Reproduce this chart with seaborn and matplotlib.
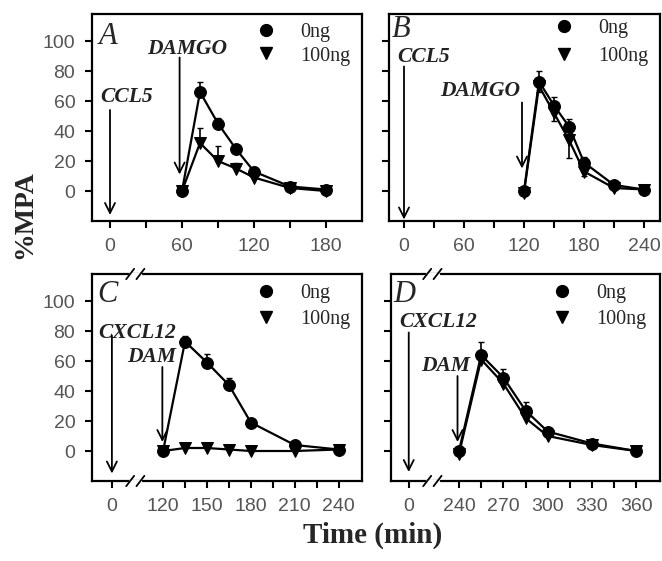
import numpy as np
import pandas as pd
import matplotlib
matplotlib.use("Agg")
import matplotlib.pyplot as plt
import matplotlib.transforms as mtransforms
from matplotlib.lines import Line2D
import seaborn as sns

sns.set_style("ticks")
plt.rcParams["font.family"] = ["Liberation Serif", "DejaVu Serif"]

# ---------------- data ----------------
doses = ["0ng", "100ng"]

A_time = [60, 75, 90, 105, 120, 150, 180]
A_0ng = [0, 66, 45, 28, 13, 3, 1]
A_0ng_err = [0, 7, 4, 3, 3, 1, 1]
A_100ng = [0, 32, 20, 15, 9, 2, 0]
A_100ng_err = [0, 10, 10, 4, 3, 1, 1]

B_time = [120, 135, 150, 165, 180, 210, 240]
B_0ng = [0, 73, 57, 43, 19, 4, 1]
B_0ng_err = [0, 7, 6, 5, 4, 1, 1]
B_100ng = [-1, 70, 52, 34, 13, 2, 1]
B_100ng_err = [0, 4, 5, 12, 3, 1, 1]

C_time = [120, 135, 150, 165, 180, 210, 240]
C_0ng = [0, 73, 59, 44, 19, 4, 1]
C_0ng_err = [0, 4, 6, 5, 2, 2, 1]
C_100ng = [0, 2, 2, 1, 0, 0, 1]
C_100ng_err = [0, 1, 1, 1, 1, 1, 1]

D_time = [240, 255, 270, 285, 300, 330, 360]
D_0ng = [0, 64, 49, 27, 13, 5, 0]
D_0ng_err = [0, 9, 6, 6, 2, 1, 1]
D_100ng = [-2, 61, 45, 22, 10, 4, 0]
D_100ng_err = [0, 3, 3, 3, 2, 1, 1]

y_ticks = [0, 20, 40, 60, 80, 100]

A_xticks = [0, 30, 60, 90, 120, 150, 180]
A_xlabels = ["0", "", "60", "", "120", "", "180"]
B_xticks = [0, 30, 60, 90, 120, 150, 180, 210, 240]
B_xlabels = ["0", "", "60", "", "120", "", "180", "", "240"]
C_xticks = [0, 120, 135, 150, 165, 180, 195, 210, 225, 240]
C_xlabels = ["0", "120", "", "150", "", "180", "", "210", "", "240"]
D_xticks = [0, 240, 255, 270, 285, 300, 315, 330, 345, 360]
D_xlabels = ["0", "240", "", "270", "", "300", "", "330", "", "360"]

# position on the broken axis where time 0 is drawn
C_zero = 85
D_zero = 206

panels = [
    dict(name="A", t=A_time, y0=A_0ng, e0=A_0ng_err, y1=A_100ng, e1=A_100ng_err,
         xt=A_xticks, xl=A_xlabels, xlim=(-15, 210), zero=None,
         pos=[92, 14, 270, 207], ylab=True,
         first="CCL5", first_txt=(14, 63), first_arrow=(0, 54, -16),
         second="DAMGO", second_txt=(64, 95), second_arrow=(58, 89, 11),
         letter=(0.025, 0.89), leg=(0.607, 0.955), ls=0.2, down1=False),
    dict(name="B", t=B_time, y0=B_0ng, e0=B_0ng_err, y1=B_100ng, e1=B_100ng_err,
         xt=B_xticks, xl=B_xlabels, xlim=(-15, 256), zero=None,
         pos=[389, 14, 271, 207], ylab=False,
         first="CCL5", first_txt=(20, 89), first_arrow=(0, 83, -19),
         second="DAMGO", second_txt=(76, 67), second_arrow=(118, 59, 15),
         letter=(0.01, 0.925), leg=(0.61, 0.975), ls=0.45, down1=True),
    dict(name="C", t=C_time, y0=C_0ng, e0=C_0ng_err, y1=C_100ng, e1=C_100ng_err,
         xt=C_xticks, xl=C_xlabels, xlim=(71.4, 256), zero=C_zero,
         pos=[92, 274, 270, 207], ylab=True,
         first="CXCL12", first_txt=(102, 79), first_arrow=(0, 77, -15),
         second="DAM", second_txt=(112, 63), second_arrow=(119.5, 56, 6),
         letter=(0.02, 0.9), leg=(0.607, 0.95), ls=0.3, down1=False),
    dict(name="D", t=D_time, y0=D_0ng, e0=D_0ng_err, y1=D_100ng, e1=D_100ng_err,
         xt=D_xticks, xl=D_xlabels, xlim=(194, 376), zero=D_zero,
         pos=[391, 274, 269, 207], ylab=False,
         first="CXCL12", first_txt=(226, 86), first_arrow=(0, 79, -14),
         second="DAM", second_txt=(231, 57), second_arrow=(239, 50, 6),
         letter=(0.01, 0.9), leg=(0.597, 0.95), ls=0.3, down1=False),
]

W, H = 662, 561
fig = plt.figure(figsize=(W / 100, H / 100), dpi=100)


def disp(t, zero):
    if zero is None:
        return t
    return zero if t == 0 else t


for p in panels:
    l, t, w, h = p["pos"]
    ax = fig.add_axes([l / W, 1 - (t + h) / H, w / W, h / H])
    x = [disp(v, p["zero"]) for v in p["t"]]
    df = pd.DataFrame({
        "time": x + x,
        "mpa": p["y0"] + p["y1"],
        "dose": ["0ng"] * len(x) + ["100ng"] * len(x),
    })
    sns.lineplot(data=df, x="time", y="mpa", style="dose", markers={"0ng": "o", "100ng": "v"},
                 dashes=False, color="black", markersize=8.5, markeredgecolor="black",
                 linewidth=1.6, legend=False, ax=ax, sort=False, zorder=3)
    zeros = [0] * len(x)
    ax.errorbar(x, p["y0"], yerr=[zeros, p["e0"]], fmt="none", ecolor="black",
                elinewidth=1.2, capsize=2.5, zorder=2)
    if p["down1"]:
        ax.errorbar(x, p["y1"], yerr=[p["e1"], zeros], fmt="none", ecolor="black",
                    elinewidth=1.2, capsize=2.5, zorder=2)
    else:
        ax.errorbar(x, p["y1"], yerr=[zeros, p["e1"]], fmt="none", ecolor="black",
                    elinewidth=1.2, capsize=2.5, zorder=2)

    ax.set_xlim(*p["xlim"])
    ax.set_ylim(-20, 118)
    ax.set_xticks([disp(v, p["zero"]) for v in p["xt"]])
    ax.set_xticklabels(p["xl"])
    ax.set_yticks(y_ticks)
    if p["ylab"]:
        ax.set_yticklabels([str(v) for v in y_ticks])
    else:
        ax.set_yticklabels([])
    ax.set_xlabel("")
    ax.set_ylabel("")
    for s in ax.spines.values():
        s.set_linewidth(1.6)
        s.set_color("black")
    ax.tick_params(direction="out", length=5, width=1.5, color="black",
                   labelsize=14, labelcolor="#555555", pad=7)
    for lab in ax.get_xticklabels() + ax.get_yticklabels():
        lab.set_family("Liberation Sans")

    # panel letter
    ax.text(p["letter"][0], p["letter"][1], p["name"], transform=ax.transAxes,
            fontsize=22, fontstyle="italic", ha="left", va="center")

    # annotations
    ax.text(p["first_txt"][0], p["first_txt"][1], p["first"], ha="center", va="center",
            fontsize=15.5, fontweight="bold", fontstyle="italic", color="#222222")
    ax.text(p["second_txt"][0], p["second_txt"][1], p["second"], ha="center", va="center",
            fontsize=15.5, fontweight="bold", fontstyle="italic", color="#222222")
    fx, fy0, fy1 = p["first_arrow"]
    fx = disp(fx, p["zero"])
    ax.annotate("", xy=(fx, fy1), xytext=(fx, fy0),
                arrowprops=dict(arrowstyle="->", lw=1.3, color="black", mutation_scale=18,
                                shrinkA=0, shrinkB=0))
    sx, sy0, sy1 = p["second_arrow"]
    ax.annotate("", xy=(sx, sy1), xytext=(sx, sy0),
                arrowprops=dict(arrowstyle="->", lw=1.3, color="black", mutation_scale=18,
                                shrinkA=0, shrinkB=0))

    # legend
    handles = [Line2D([], [], color="black", marker="o", linestyle="none", markersize=8.5),
               Line2D([], [], color="black", marker="v", linestyle="none", markersize=9)]
    ax.legend(handles, doses, loc="upper left", bbox_to_anchor=p["leg"], frameon=False,
              borderpad=0, borderaxespad=0, handlelength=1.0, handletextpad=1.2,
              labelspacing=p["ls"], prop={"family": "Liberation Serif", "size": 14.5})

    # axis break marks
    if p["zero"] is not None:
        trans = mtransforms.blended_transform_factory(ax.transData, ax.transAxes)
        bx1 = p["zero"] + 12.5
        bx2 = p["zero"] + 19.5
        for yb in (0.0, 1.0):
            ax.plot([bx1, bx2], [yb, yb], color="white", lw=2.5, transform=trans,
                    clip_on=False, zorder=5)
            for bx in (bx1, bx2):
                ax.plot([bx - 2.7, bx + 2.7], [yb - 0.025, yb + 0.025], color="black",
                        lw=1.3, transform=trans, clip_on=False, zorder=6)

fig.text(25 / W, 1 - 215 / H, "%MPA", rotation=90, ha="center", va="center",
         fontsize=20, fontweight="bold")
fig.text(373 / W, 1 - 535 / H, "Time (min)", ha="center", va="center",
         fontsize=21, fontweight="bold")

fig.savefig("out.png", dpi=100)
